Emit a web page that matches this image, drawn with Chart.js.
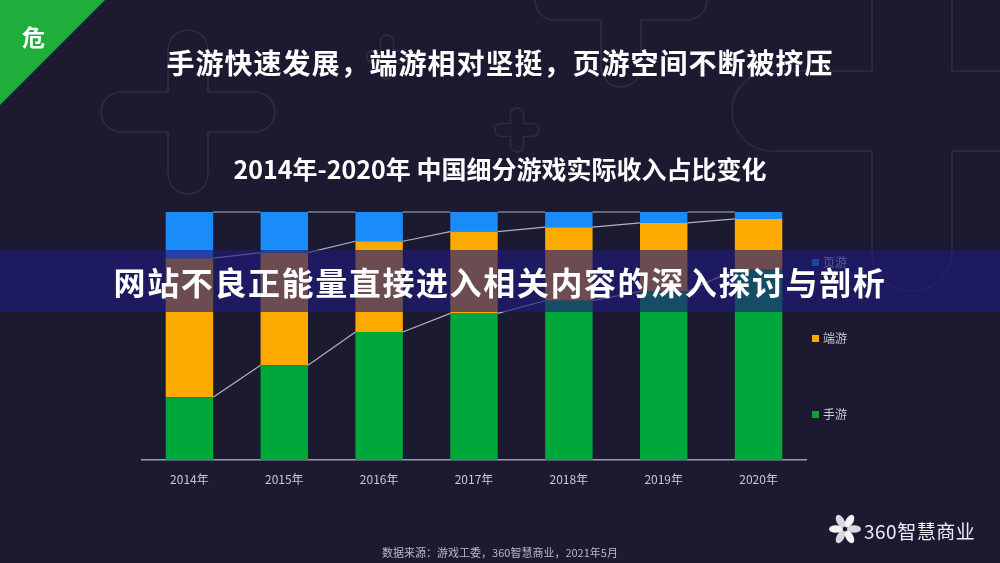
<!DOCTYPE html>
<html>
<head>
<meta charset="utf-8">
<script src="https://cdn.jsdelivr.net/npm/chart.js@4.4.0/dist/chart.umd.min.js"></script>
<style>
  body { margin: 0; width: 1000px; height: 563px; overflow: hidden; position: relative;
         background: #1c1a31; font-family: "Noto Sans CJK SC", "Noto Sans", sans-serif; }
  #deco { position: absolute; left: 0; top: 0; }
  #chart { position: absolute; left: 0; top: 0; }
  .corner { position: absolute; left: 0; top: 0; width: 0; height: 0;
            border-top: 105px solid #1fae3c; border-right: 105px solid transparent; }
  .corner span { position: absolute; left: 22px; top: -86px; color: #fff; font-size: 23px; font-weight: bold; }
  .title { position: absolute; left: 0; width: 1000px; text-align: center; color: #fff; font-weight: bold; white-space: nowrap; }
  #t1 { top: 42px; font-size: 28px; letter-spacing: 1px; }
  #t2 { top: 150px; font-size: 25px; }
  .legend { position: absolute; left: 812px; font-size: 12px; color: #c8c8d0; line-height: 14px; }
  .legend i { display: inline-block; width: 7px; height: 7px; margin-right: 4px; vertical-align: 1px; }
  #banner { position: absolute; left: 0; top: 250px; width: 1000px; height: 62px;
            background: rgba(32, 26, 125, 0.65); color: #fff; font-weight: bold; font-size: 32px;
            letter-spacing: 1.6px; text-align: center; line-height: 62px; white-space: nowrap; }
  #src { position: absolute; left: 0; width: 1000px; top: 544px; text-align: center; font-size: 11px; color: #b8b8c6; }
  #logo { position: absolute; left: 864px; top: 517px; font-size: 19px; color: #ececf2; letter-spacing: 0.5px; }
</style>
</head>
<body>
<svg id="deco" width="1000" height="563"></svg>
<canvas id="chart" width="1000" height="563"></canvas>
<div class="corner"><span>危</span></div>
<div class="title" id="t1">手游快速发展，端游相对坚挺，页游空间不断被挤压</div>
<div class="title" id="t2">2014年-2020年 中国细分游戏实际收入占比变化</div>
<div id="legend"></div>
<div id="src">数据来源：游戏工委，360智慧商业，2021年5月</div>
<svg style="position:absolute;left:0;top:0" width="1000" height="563" id="flower"></svg>
<div id="logo">360智慧商业</div>
<div id="banner">网站不良正能量直接进入相关内容的深入探讨与剖析</div>

<script>
// 类别与数值（占比 %）
const years = ['2014年', '2015年', '2016年', '2017年', '2018年', '2019年', '2020年'];
const seriesNames = ['手游', '端游', '页游'];
const mobile = [25.3, 38.2, 51.6, 59.1, 64.2, 68.0, 76.7];
const client = [56.1, 45.4, 36.6, 33.0, 29.7, 27.6, 20.5];
const web = [18.6, 16.4, 11.8, 7.9, 6.1, 4.4, 2.8];
const colors = ['#00a83c', '#fcaa00', '#1a8cfa'];

// 背景装饰的加号
function plusPath(cx, cy, w, hx, hy) {
    return 'M' + (cx - w) + ' ' + (cy - w) +
        ' L' + (cx - w) + ' ' + (cy - hy + w) +
        ' A' + w + ' ' + w + ' 0 0 1 ' + (cx + w) + ' ' + (cy - hy + w) +
        ' L' + (cx + w) + ' ' + (cy - w) +
        ' L' + (cx + hx - w) + ' ' + (cy - w) +
        ' A' + w + ' ' + w + ' 0 0 1 ' + (cx + hx - w) + ' ' + (cy + w) +
        ' L' + (cx + w) + ' ' + (cy + w) +
        ' L' + (cx + w) + ' ' + (cy + hy - w) +
        ' A' + w + ' ' + w + ' 0 0 1 ' + (cx - w) + ' ' + (cy + hy - w) +
        ' L' + (cx - w) + ' ' + (cy + w) +
        ' L' + (cx - hx + w) + ' ' + (cy + w) +
        ' A' + w + ' ' + w + ' 0 0 1 ' + (cx - hx + w) + ' ' + (cy - w) + ' Z';
}
var pluses = [[188, 112, 20, 87, 82], [621, 0, 20, 86, 87], [517, 130, 6.5, 22, 22],
              [387, 57, 6.5, 20, 22], [912, 111, 40, 180, 180]];
var deco = document.getElementById('deco');
pluses.forEach(function(p) {
    var el = document.createElementNS('http://www.w3.org/2000/svg', 'path');
    el.setAttribute('d', plusPath(p[0], p[1], p[2], p[3], p[4]));
    el.setAttribute('fill', 'none');
    el.setAttribute('stroke', 'rgba(120,122,150,0.2)');
    el.setAttribute('stroke-width', '1.5');
    deco.appendChild(el);
});

// 360 logo 花
var flower = document.getElementById('flower');
for (var k = 0; k < 6; k++) {
    var e = document.createElementNS('http://www.w3.org/2000/svg', 'ellipse');
    e.setAttribute('cx', 845); e.setAttribute('cy', 520);
    e.setAttribute('rx', 3.8); e.setAttribute('ry', 7);
    e.setAttribute('fill', k % 2 ? '#d8d8e0' : '#f4f4f8');
    e.setAttribute('transform', 'rotate(' + (k * 60 + 30) + ' 845 529)');
    flower.appendChild(e);
}

// 图例
var legendTops = [255, 331, 407];
var legendHtml = '';
[2, 1, 0].forEach(function(idx, j) {
    legendHtml += '<div class="legend" style="top:' + legendTops[j] + 'px"><i style="background:' +
        colors[idx] + '"></i>' + seriesNames[idx] + '</div>';
});
document.getElementById('legend').innerHTML = legendHtml;

// 柱子之间的连接线
const connectorLines = {
    id: 'connectorLines',
    afterDatasetsDraw(chart) {
        const ctx = chart.ctx;
        ctx.save();
        ctx.strokeStyle = 'rgba(205,205,215,0.85)';
        ctx.lineWidth = 1.2;
        chart.data.datasets.forEach(function(ds, di) {
            const bars = chart.getDatasetMeta(di).data;
            for (let i = 0; i < bars.length - 1; i++) {
                const a = bars[i], b = bars[i + 1];
                ctx.beginPath();
                ctx.moveTo(a.x + a.width / 2, a.y);
                ctx.lineTo(b.x - b.width / 2, b.y);
                ctx.stroke();
            }
        });
        ctx.restore();
    }
};

new Chart(document.getElementById('chart'), {
    type: 'bar',
    data: {
        labels: years,
        datasets: [
            { label: seriesNames[0], data: mobile, backgroundColor: colors[0] },
            { label: seriesNames[1], data: client, backgroundColor: colors[1] },
            { label: seriesNames[2], data: web, backgroundColor: colors[2] }
        ]
    },
    options: {
        responsive: false,
        animation: false,
        barPercentage: 0.5,
        categoryPercentage: 1,
        layout: { padding: { left: 142, right: 194, top: 212, bottom: 73 } },
        plugins: { legend: { display: false }, tooltip: { enabled: false } },
        scales: {
            x: {
                stacked: true,
                grid: { display: false, drawTicks: false },
                border: { display: true, color: '#9a9aa8', width: 1.5 },
                ticks: { color: '#c8c8d0', padding: 12, font: { size: 12, family: '"Noto Sans CJK SC"' } },
                afterFit: function(s) { s.height = 30; }
            },
            y: { stacked: true, display: false, min: 0, max: 100 }
        }
    },
    plugins: [connectorLines]
});
</script>
</body>
</html>
